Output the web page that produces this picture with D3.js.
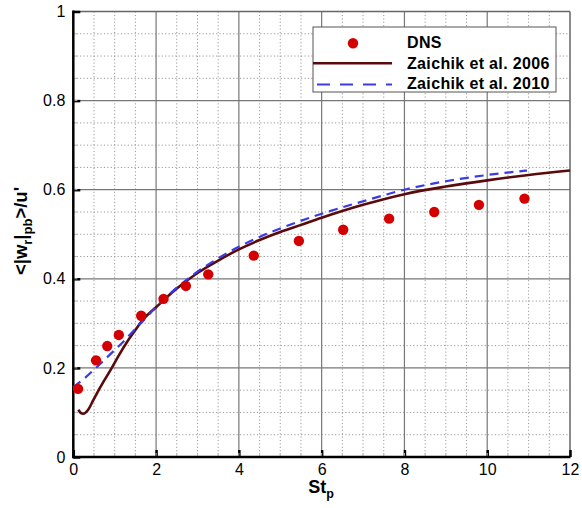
<!DOCTYPE html>
<html><head><meta charset="utf-8">
<script src="https://cdn.jsdelivr.net/npm/d3@7"></script>
<style>body{margin:0;background:#fff;} svg{display:block;font-family:"Liberation Sans",Arial,sans-serif;}</style>
</head><body>
<svg id="c" width="582" height="508"></svg>
<script>
// DNS data
const dnsSt = [0.115,0.55,0.82,1.1,1.64,2.18,2.72,3.26,4.36,5.45,6.52,7.63,8.72,9.8,10.9];
const dnsW  = [0.153,0.217,0.249,0.274,0.317,0.355,0.384,0.41,0.452,0.485,0.51,0.535,0.55,0.566,0.58];
// Zaichik et al. 2006
const z06St = [0.12,0.18,0.24,0.35,0.48,0.6,0.73,0.93,1.1,1.29,1.5,1.7,2.0,2.17,2.5,3.0,3.5,4.0,4.5,5.0,5.5,6.0,7.0,8.0,9.0,10.0,11.0,12.0];
const z06W  = [0.106,0.099,0.097,0.105,0.127,0.148,0.169,0.2,0.228,0.257,0.285,0.31,0.336,0.351,0.378,0.413,0.441,0.466,0.487,0.505,0.521,0.537,0.566,0.59,0.607,0.621,0.633,0.643];
// Zaichik et al. 2010
const z10St = [0,0.25,0.5,0.75,1.0,1.25,1.5,1.75,2.0,2.5,3.0,3.5,4.0,4.5,5.0,6.0,7.0,8.0,9.0,10.0,10.96];
const z10W  = [0.157,0.175,0.196,0.218,0.24,0.263,0.288,0.312,0.337,0.38,0.416,0.446,0.472,0.494,0.513,0.546,0.574,0.6,0.619,0.633,0.643];
const xTicks = [0,2,4,6,8,10,12];
const yTicks = [0,0.2,0.4,0.6,0.8,1];
const legendLabels = ["DNS","Zaichik et al. 2006","Zaichik et al. 2010"];

const svg = d3.select("#c");
const L=73.3, R=570, T=11.5, B=457;
const x = d3.scaleLinear().domain([0,12]).range([L,R]);
const y = d3.scaleLinear().domain([0,1]).range([B,T]);

// minor grid
const g = svg.append("g");
d3.range(0.5,12,0.5).filter(v=>Math.abs(v/2-Math.round(v/2))>1e-6).forEach(v=>{
  g.append("line").attr("x1",x(v)).attr("x2",x(v)).attr("y1",T).attr("y2",B)
   .attr("stroke","#999").attr("stroke-width",1).attr("stroke-dasharray","1.2,2.2");
});
d3.range(0.05,1,0.05).filter(v=>Math.abs(v/0.2-Math.round(v/0.2))>1e-6).forEach(v=>{
  g.append("line").attr("x1",L).attr("x2",R).attr("y1",y(v)).attr("y2",y(v))
   .attr("stroke","#999").attr("stroke-width",1).attr("stroke-dasharray","1.2,2.2");
});
// major grid
xTicks.slice(1,-1).forEach(v=>{
  g.append("line").attr("x1",x(v)).attr("x2",x(v)).attr("y1",T).attr("y2",B)
   .attr("stroke","#777").attr("stroke-width",1.2);
});
yTicks.slice(1,-1).forEach(v=>{
  g.append("line").attr("x1",L).attr("x2",R).attr("y1",y(v)).attr("y2",y(v))
   .attr("stroke","#777").attr("stroke-width",1.2);
});
// frame top/right
svg.append("line").attr("x1",L).attr("x2",R).attr("y1",T).attr("y2",T).attr("stroke","#666").attr("stroke-width",1.5);
svg.append("line").attr("x1",R).attr("x2",R).attr("y1",T).attr("y2",B).attr("stroke","#666").attr("stroke-width",1.5);

// axes
const xAxis = d3.axisBottom(x).tickValues(xTicks).tickSize(-7).tickPadding(7).tickFormat(d3.format("d"));
const yAxis = d3.axisLeft(y).tickValues(yTicks).tickSize(-7).tickPadding(8).tickFormat(d=>d===0?"0":d===1?"1":d3.format(".1f")(d));
const gx = svg.append("g").attr("transform",`translate(0,${B})`).call(xAxis);
const gy = svg.append("g").attr("transform",`translate(${L},0)`).call(yAxis);
[gx,gy].forEach(a=>{
  a.select(".domain").remove();
  a.selectAll(".tick line").attr("stroke","#000").attr("stroke-width",2.5);
  a.selectAll(".tick text").attr("font-size",16).attr("font-family","Liberation Sans, Arial, sans-serif").attr("fill","#000");
});
// minor ticks
d3.range(0.5,12,0.5).forEach(v=>{
  svg.append("line").attr("x1",x(v)).attr("x2",x(v)).attr("y1",B).attr("y2",B-4).attr("stroke","#bbb").attr("stroke-width",1);
});
d3.range(0.05,1,0.05).forEach(v=>{
  svg.append("line").attr("x1",L).attr("x2",L+4).attr("y1",y(v)).attr("y2",y(v)).attr("stroke","#bbb").attr("stroke-width",1);
});
svg.append("line").attr("x1",L).attr("x2",R+0.5).attr("y1",B).attr("y2",B).attr("stroke","#000").attr("stroke-width",2.5);
svg.append("line").attr("x1",L).attr("x2",L).attr("y1",T-1).attr("y2",B+1.2).attr("stroke","#000").attr("stroke-width",2.5);

// curves
const line = d3.line().x(d=>x(d[0])).y(d=>y(d[1])).curve(d3.curveMonotoneX);
svg.append("path").datum(z06St.map((s,i)=>[s,z06W[i]])).attr("d",line)
  .attr("fill","none").attr("stroke","#5a0a0a").attr("stroke-width",2.6);
svg.append("path").datum(z10St.map((s,i)=>[s,z10W[i]])).attr("d",line)
  .attr("fill","none").attr("stroke","#3b3be6").attr("stroke-width",2.2).attr("stroke-dasharray","9,6");
svg.append("g").selectAll("circle").data(dnsSt.map((s,i)=>[s,dnsW[i]])).join("circle")
  .attr("cx",d=>x(d[0])).attr("cy",d=>y(d[1])).attr("r",5.2).attr("fill","#d40000");

// legend
const lg = svg.append("g");
lg.append("rect").attr("x",313).attr("y",27).attr("width",243).attr("height",65)
  .attr("fill","#fff").attr("stroke","#555").attr("stroke-width",1);
lg.append("circle").attr("cx",353).attr("cy",43.3).attr("r",5.2).attr("fill","#d40000");
lg.append("line").attr("x1",313).attr("x2",392).attr("y1",63.3).attr("y2",63.3).attr("stroke","#5a0a0a").attr("stroke-width",2.6);
lg.append("line").attr("x1",313).attr("x2",392).attr("y1",84.5).attr("y2",84.5).attr("stroke","#3b3be6").attr("stroke-width",2.2).attr("stroke-dasharray","13,10").attr("stroke-dashoffset",-4);
[48,69,89].forEach((yy,i)=>{
  lg.append("text").attr("x",407).attr("y",yy).attr("font-size",16).attr("letter-spacing",0.35).attr("font-weight","bold").text(legendLabels[i]);
});

// axis labels
const xl = svg.append("text").attr("x",321).attr("y",493).attr("text-anchor","middle").attr("font-size",18).attr("font-weight","bold");
xl.append("tspan").text("St");
xl.append("tspan").attr("font-size",12.5).attr("dy",5).text("p");

const yl = svg.append("text").attr("transform","translate(27,231) rotate(-90)").attr("text-anchor","middle").attr("font-size",18.5).attr("font-weight","bold");
yl.append("tspan").text("<|w");
yl.append("tspan").attr("font-size",13).attr("dy",5).text("r");
yl.append("tspan").attr("dy",-5).text("|");
yl.append("tspan").attr("font-size",13).attr("dy",5).text("pb");
yl.append("tspan").attr("dy",-5).text(">/u'");
</script>
</body></html>
